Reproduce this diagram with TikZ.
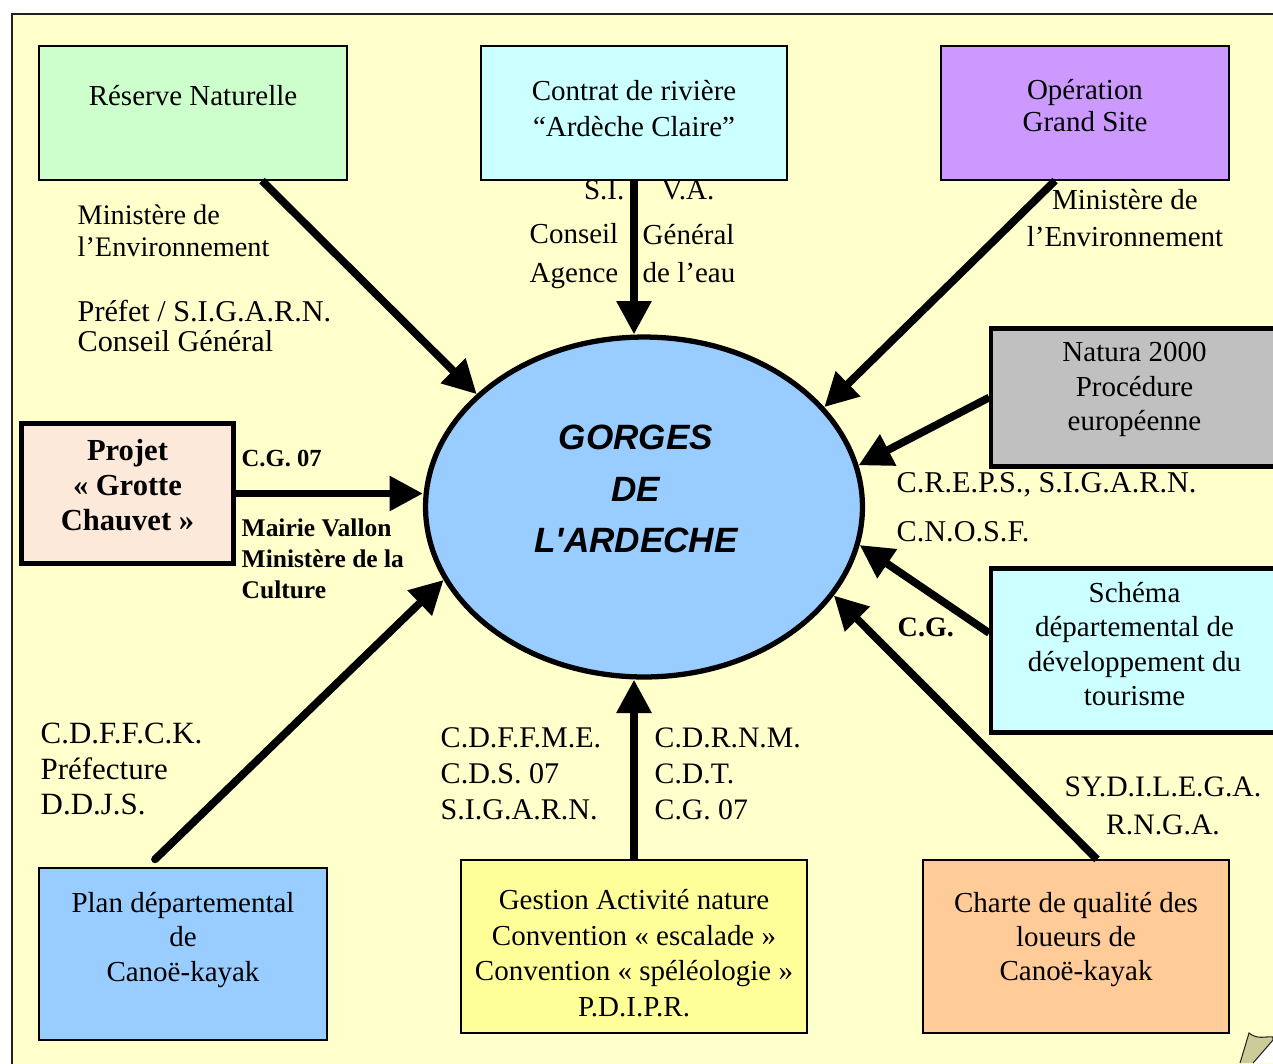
\documentclass[tikz,border=0pt]{standalone}
\usepackage{fontspec}
\setmainfont{Liberation Serif}
\newfontfamily\gorgesfont{Liberation Sans}
\usetikzlibrary{arrows.meta,positioning,shapes.geometric}
\definecolor{paper}{HTML}{FFFFCC}
\definecolor{ink}{HTML}{000000}
\definecolor{frame}{HTML}{222222}
\definecolor{mint}{HTML}{CCFFCC}
\definecolor{ice}{HTML}{CCFFFF}
\definecolor{lilac}{HTML}{CC99FF}
\definecolor{stone}{HTML}{C0C0C0}
\definecolor{peach}{HTML}{FDE9DA}
\definecolor{sky}{HTML}{99CCFF}
\definecolor{lemon}{HTML}{FFFF99}
\definecolor{apricot}{HTML}{FFCC99}
\definecolor{fold}{HTML}{CCCC99}

\begin{document}
\begin{tikzpicture}[x=.02cm,y=-.02cm,line width=.8pt]
      \tikzset{
        box/.style={rectangle,draw=ink,fill=#1,align=center,inner sep=2pt,
            font=\fontsize{16.5}{19.5}\selectfont},
        heavy/.style={line width=2.4pt},
        hub/.style={ellipse,draw=ink,fill=sky,line width=3pt,inner sep=0pt,
            minimum width=8.74cm,minimum height=6.8cm},
        txt/.style={inner sep=0pt,align=left,font=\fontsize{17.2}{18}\selectfont},
        btxt/.style={inner sep=0pt,align=left,font=\bfseries\fontsize{14.5}{17.6}\selectfont},
        flow/.style={-{Triangle[length=19pt,width=19pt]},line width=4.4pt,draw=ink}
      }
      \useasboundingbox (0,0) rectangle (1273,1063);

      % sheet and curled corner
      \draw[frame,fill=paper,line width=1.1pt] (12,14) rectangle (1310,1100);
      \fill[white] (1273,1040) -- (1253,1063) -- (1273,1063) -- cycle;
      \draw[frame,fill=fold,line width=.6pt] (1240,1063) -- (1249,1033)
        .. controls (1258,1040) and (1265,1036) .. (1273,1037)
        -- (1273,1040) -- (1253,1063);

      \node[hub] (gorges) at (644,507) {};
      \node[inner sep=0pt,align=center,
        font=\gorgesfont\bfseries\itshape\fontsize{20}{29.5}\selectfont]
        (gorgestxt) at (636,489) {GORGES\\DE\\L'ARDECHE};

      \node[box=mint,minimum width=6.16cm,minimum height=2.68cm]
        (reserve) at (193,113) {Réserve Naturelle\\\mbox{}};
      \node[box=ice,minimum width=6.12cm,minimum height=2.68cm,
        font=\fontsize{16.5}{20.5}\selectfont]
        (contrat) at (634,113) {Contrat de rivière\\“Ardèche Claire”\\[-14.8pt]\mbox{}};
      \node[box=lilac,minimum width=5.76cm,minimum height=2.68cm,
        font=\fontsize{16.5}{18}\selectfont]
        (operation) at (1085,113) {Opération\\Grand Site\\[-9.5pt]\mbox{}};
      \node[box=stone,heavy,minimum width=5.73cm,minimum height=2.76cm]
        (natura) at (1134.5,397.5) {Natura 2000\\Procédure\\européenne\\[-6.9pt]\mbox{}};
      \node[box=peach,line width=2.8pt,minimum width=4.24cm,minimum height=2.8cm,
        font=\bfseries\fontsize{17.4}{20}\selectfont]
        (projet) at (127.5,493.5) {Projet\\« Grotte\\Chauvet »\\[-10.4pt]\mbox{}};
      \node[box=ice,heavy,minimum width=5.73cm,minimum height=3.28cm]
        (schema) at (1134.5,650.5) {Schéma\\départemental de\\développement du\\tourisme\\[-12.1pt]\mbox{}};
      \node[box=sky,minimum width=5.76cm,minimum height=3.44cm]
        (plan) at (183,954) {Plan départemental\\de\\Canoë-kayak\\\mbox{}};
      \node[box=lemon,minimum width=6.92cm,minimum height=3.46cm,
        font=\fontsize{16.5}{20.2}\selectfont]
        (gestion) at (634,946.5) {\mbox{}\\[-1.4pt]Gestion Activité nature\\Convention « escalade »\\Convention « spéléologie »\\P.D.I.P.R.};
      \node[box=apricot,minimum width=6.12cm,minimum height=3.46cm]
        (charte) at (1076,946.5) {Charte de qualité des\\loueurs de\\Canoë-kayak\\[-8pt]\mbox{}};

      \draw[flow] ([xshift=1.38cm]reserve.south) -- (gorges.146);
      \draw[flow] (contrat.south) -- (contrat.south |- gorges.north);
      \draw[flow] ([xshift=-.6cm]operation.south) -- (gorges.29);
      \draw[flow] (natura.west) -- (gorges.11);
      \draw[flow] (projet.east) -- (projet.east -| gorges.west);
      \draw[flow] ([yshift=.35cm]schema.west) -- (gorges.-10);
      \draw[flow] ([xshift=.42cm]charte.north) -- (gorges.-25);
      \draw[flow] (gestion.north) -- (gestion.north |- gorges.south);
      \draw[flow,line cap=round] ([xshift=-.56cm,yshift=.16cm]plan.north) -- (gorges.200);

      \node[txt,anchor=west,font=\fontsize{16.1}{18}\selectfont]
        (envleft) at (77,231) {Ministère de\\l’Environnement};
      \node[txt,anchor=west,font=\fontsize{17.2}{17}\selectfont]
        (prefet) at (77,326) {Préfet / S.I.G.A.R.N.\\Conseil Général};
      \node[txt,anchor=east,font=\fontsize{16.5}{18}\selectfont] (si) at (625,190) {S.I.};
      \node[txt,anchor=west,font=\fontsize{16.5}{18}\selectfont] (va) at (661,190) {V.A.};
      \node[txt,anchor=west,font=\fontsize{16.5}{22}\selectfont]
        (conseil) at (529,256) {Conseil\\Agence};
      \node[txt,anchor=west,font=\fontsize{16.5}{22}\selectfont]
        (general) at (642,253.5) {Général\\de l’eau};
      \node[txt,align=center,font=\fontsize{16.5}{21.5}\selectfont]
        (envright) at (1125,218) {Ministère de\\l’Environnement};
      \node[txt,anchor=west] (creps) at (896,485) {C.R.E.P.S., S.I.G.A.R.N.};
      \node[txt,anchor=west] (cnosf) at (896,532) {C.N.O.S.F.};
      \node[btxt,anchor=west,font=\bfseries\fontsize{16}{18}\selectfont]
        (cg) at (897,627) {C.G.};
      \node[btxt,anchor=west,font=\bfseries\fontsize{14}{17.6}\selectfont]
        (cgzs) at (241,458) {C.G. 07};
      \node[btxt,anchor=west] (mairie) at (241,559) {Mairie Vallon\\Ministère de la\\Culture};
      \node[txt,anchor=west,font=\fontsize{17.6}{20.4}\selectfont]
        (cdffck) at (40,769) {C.D.F.F.C.K.\\Préfecture\\D.D.J.S.};
      \node[txt,anchor=west,font=\fontsize{17.1}{20.4}\selectfont]
        (cdffme) at (440,774) {C.D.F.F.M.E.\\C.D.S. 07\\S.I.G.A.R.N.};
      \node[txt,anchor=west,font=\fontsize{16.9}{20.4}\selectfont]
        (cdrnm) at (654,774) {C.D.R.N.M.\\C.D.T.\\C.G. 07};
      \node[txt,align=center,font=\fontsize{16.9}{21.5}\selectfont]
        (sydilega) at (1163,806) {SY.D.I.L.E.G.A.\\R.N.G.A.};
    \end{tikzpicture}
\end{document}
